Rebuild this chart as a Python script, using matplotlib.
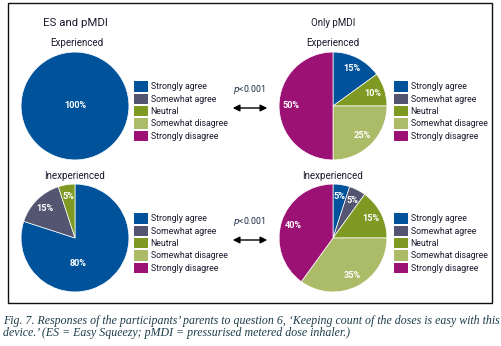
import matplotlib
matplotlib.use("Agg")
import matplotlib.pyplot as plt
from matplotlib.patches import Patch, Rectangle, FancyArrowPatch

# ---------------------------------------------------------------------------
# Data
# ---------------------------------------------------------------------------
categories = ["Strongly agree", "Somewhat agree", "Neutral",
              "Somewhat disagree", "Strongly disagree"]
colors = ["#00539b", "#545671", "#7f9a22", "#abbb67", "#9b1174"]

es_experienced = [100, 0, 0, 0, 0]
es_inexperienced = [80, 15, 5, 0, 0]
pmdi_experienced = [15, 0, 10, 25, 50]
pmdi_inexperienced = [5, 5, 15, 35, 40]

p_value = "<0.001"
caption = ("Fig. 7. Responses of the participants\u2019 parents to question 6, \u2018Keeping count of the doses is easy with this\n"
           "device.\u2019 (ES = Easy Squeezy; pMDI = pressurised metered dose inhaler.)")

W, H = 502, 346
SANS = ["Roboto", "Liberation Sans", "DejaVu Sans"]
INK = "#1a1a2e"

fig = plt.figure(figsize=(W / 100, H / 100), dpi=100)


def px(x, y):
    """pixel (from top-left) -> figure fraction"""
    return x / W, 1 - y / H


def pie_panel(cx, cy, r, values, pctdist=0.78):
    ax = fig.add_axes([(cx - r) / W, 1 - (cy + r) / H, 2 * r / W, 2 * r / H])
    # skip empty categories so no zero-width wedge edges are drawn
    vals = [v for v in values if v > 0]
    cols = [c for v, c in zip(values, colors) if v > 0]
    wedges, texts, autotexts = ax.pie(
        vals, colors=cols, startangle=90, counterclock=False, radius=1,
        autopct=lambda p: f"{p:.0f}%", pctdistance=pctdist,
        wedgeprops=dict(linewidth=0.5, edgecolor="white"),
        textprops=dict(color="white", fontsize=6.6, fontweight="bold", family=SANS),
    )
    ax.set_xlim(-1.02, 1.02)
    ax.set_ylim(-1.02, 1.02)
    ax.axis("off")
    return ax, autotexts


def legend_at(x, y):
    handles = [Patch(facecolor=c, edgecolor="none") for c in colors]
    fig.legend(handles, categories, loc="upper left", bbox_to_anchor=px(x, y),
               frameon=False, borderpad=0, handlelength=1.55, handleheight=1.45,
               handletextpad=0.3, labelspacing=0.22,
               prop=dict(family=SANS, size=6.3), labelcolor=INK)


# frame
fig.patches.append(Rectangle(px(8, 303), (492 - 8) / W, (303 - 3) / H,
                             transform=fig.transFigure, fill=False,
                             edgecolor="#111111", linewidth=1.0))

# ES and pMDI column
fig.text(*px(75, 23), "ES and pMDI", ha="center", va="center", fontsize=8.2,
         family=SANS, color=INK)
fig.text(*px(77, 43), "Experienced", ha="center", va="center", fontsize=7.0,
         family=SANS, color=INK)
pie_panel(75, 106, 55, es_experienced, pctdist=0)
legend_at(130, 77)

fig.text(*px(75, 176), "Inexperienced", ha="center", va="center", fontsize=7.0,
         family=SANS, color=INK)
ax, at = pie_panel(75, 238, 55, es_inexperienced)
at[0].set_position((0.05, -0.47))
legend_at(130, 209)

# Only pMDI column
fig.text(*px(333, 23), "Only pMDI", ha="center", va="center", fontsize=7.0,
         family=SANS, color=INK)
fig.text(*px(333, 43), "Experienced", ha="center", va="center", fontsize=7.0,
         family=SANS, color=INK)
pie_panel(333, 106, 55, pmdi_experienced)
legend_at(390, 77)

fig.text(*px(333, 176), "Inexperienced", ha="center", va="center", fontsize=7.0,
         family=SANS, color=INK)
pie_panel(333, 238, 55, pmdi_inexperienced)
legend_at(390, 209)

# significance arrows
for y_txt, y_arr in [(90, 108), (222, 240)]:
    fig.text(*px(249, y_txt), "$p$" + p_value, ha="center", va="center",
             fontsize=6.3, family=SANS, color="#1a2a44",
             math_fontfamily="dejavusans")
    fig.patches.append(FancyArrowPatch(
        px(230, y_arr), px(270, y_arr), transform=fig.transFigure,
        arrowstyle="<|-|>,head_length=4,head_width=2", mutation_scale=1,
        color="black", linewidth=1.0))

# caption
fig.text(*px(3, 327), caption, ha="left", va="center", fontsize=8.6,
         family=["Liberation Serif", "DejaVu Serif"], style="italic",
         color="#1d3d4a", linespacing=1.1)

fig.savefig("out.png", dpi=100)
